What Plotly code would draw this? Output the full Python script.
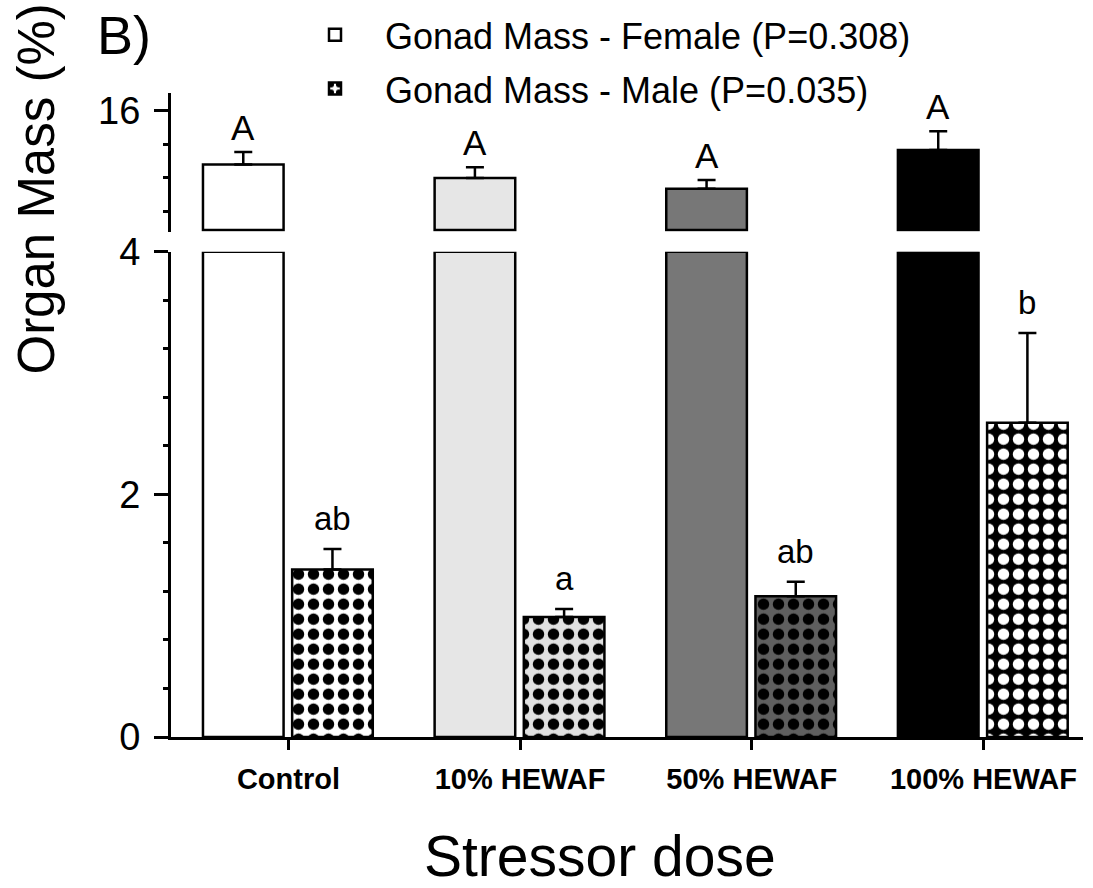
import plotly.graph_objects as go

# ---------------- data ----------------
categories = ["Control", "10% HEWAF", "50% HEWAF", "100% HEWAF"]
female_mean = [14.39, 13.99, 13.67, 14.82]
female_err = [0.37, 0.32, 0.26, 0.56]
male_mean = [1.38, 0.99, 1.16, 2.59]
male_err = [0.17, 0.065, 0.12, 0.74]
female_letters = ["A", "A", "A", "A"]
male_letters = ["ab", "a", "ab", "b"]
female_legend = "Gonad Mass - Female (P=0.308)"
male_legend = "Gonad Mass - Male (P=0.035)"
lower_ticks = [0, 2, 4]
upper_ticks = [16]

# ---------------- axis break ----------------
BREAK_LOW = 4.0      # top of lower segment
BREAK_HIGH = 12.44   # bottom of upper segment
UPPER_TOP = 16.52

# ---------------- styles ----------------
FONT = "Liberation Sans, Arial, sans-serif"
female_fill = ["#ffffff", "#e6e6e6", "#777777", "#000000"]
male_bg = ["#ffffff", "#e0e0e0", "#5f5f5f", "#000000"]
male_dot = ["#000000", "#000000", "#000000", "#ffffff"]
BAR_W = 0.348
F_OFF = -0.369
M_OFF = 0.016
x = list(range(len(categories)))

fig = go.Figure()

# female, lower segment (truncated at the break)
fig.add_trace(go.Bar(
    x=x, y=[min(v, BREAK_LOW) for v in female_mean],
    offset=F_OFF, width=BAR_W, name=female_legend, legendgroup="female",
    marker=dict(color=female_fill, line=dict(color="black", width=2.5)),
    xaxis="x", yaxis="y", showlegend=True, legendrank=1,
))
# female, upper segment
fig.add_trace(go.Bar(
    x=x, y=[v - BREAK_HIGH for v in female_mean], base=BREAK_HIGH,
    offset=F_OFF, width=BAR_W, name=female_legend, legendgroup="female",
    marker=dict(color=female_fill, line=dict(color="black", width=2.5)),
    error_y=dict(type="data", array=female_err, arrayminus=[0] * len(female_err),
                 symmetric=False, color="black", thickness=2.5, width=9),
    xaxis="x", yaxis="y2", showlegend=False,
))
# male (scalar marker colour so the per-point pattern colours are honoured)
fig.add_trace(go.Bar(
    x=x, y=male_mean,
    offset=M_OFF, width=BAR_W, name=male_legend, legendgroup="male",
    marker=dict(color="#ffffff", line=dict(color="black", width=2.5),
                pattern=dict(shape=".", fillmode="replace", bgcolor=male_bg,
                             fgcolor=male_dot, fgopacity=1, size=15, solidity=0.46)),
    error_y=dict(type="data", array=male_err, arrayminus=[0] * len(male_err),
                 symmetric=False, color="black", thickness=2.5, width=9),
    xaxis="x", yaxis="y", showlegend=True, legendrank=2,
))

annotations = []
for i, (m, e, t) in enumerate(zip(female_mean, female_err, female_letters)):
    annotations.append(dict(x=i + F_OFF + BAR_W / 2, y=m + e, xref="x", yref="y2",
                            text=t, showarrow=False, yanchor="bottom", yshift=3,
                            font=dict(size=35, family=FONT, color="black")))
for i, (m, e, t) in enumerate(zip(male_mean, male_err, male_letters)):
    annotations.append(dict(x=i + M_OFF + BAR_W / 2, y=m + e, xref="x", yref="y",
                            text=t, showarrow=False, yanchor="bottom", yshift=10,
                            font=dict(size=33, family=FONT, color="black")))
annotations.append(dict(x=-0.083, y=1.09, xref="paper", yref="paper", text="B)",
                        showarrow=False, xanchor="left", yanchor="middle",
                        font=dict(size=54, family=FONT, color="black")))
annotations.append(dict(x=-0.148, y=0.559, xref="paper", yref="paper",
                        text="Organ Mass (%)", textangle=-90, showarrow=False,
                        xanchor="center", yanchor="bottom",
                        font=dict(size=51, family=FONT, color="black")))
annotations.append(dict(x=0.470, y=-0.2376, xref="paper", yref="paper",
                        text="Stressor dose", showarrow=False,
                        xanchor="center", yanchor="bottom",
                        font=dict(size=57, family=FONT, color="black")))

yaxis_common = dict(
    showline=True, linewidth=3, linecolor="black", ticks="outside", ticklen=14,
    tickwidth=2.5, tickcolor="black", showgrid=False, zeroline=False,
    tickfont=dict(size=38, family=FONT, color="black"), ticklabelstandoff=6,
)

fig.update_layout(
    width=1093, height=888,
    margin=dict(l=171, r=10, t=93, b=151, autoexpand=False),
    paper_bgcolor="white", plot_bgcolor="white",
    barmode="overlay",
    font=dict(family=FONT, color="black"),
    xaxis=dict(range=[-0.507, 3.43], tickmode="array", tickvals=x, ticktext=categories,
               showline=True, linewidth=3, linecolor="black", ticks="outside",
               ticklen=10, tickwidth=2.5, tickcolor="black", showgrid=False,
               zeroline=False, anchor="y", ticklabelstandoff=4, automargin=False,
               tickfont=dict(size=29, family=FONT, color="black", weight="bold")),
    yaxis=dict(domain=[0, 0.7536], range=[0, BREAK_LOW], tickmode="array",
               tickvals=lower_ticks, anchor="x", automargin=False,
               minor=dict(tickmode="linear", tick0=0, dtick=0.4, ticks="outside",
                          ticklen=5, tickwidth=2.5, tickcolor="black"),
               **yaxis_common),
    yaxis2=dict(domain=[0.7846, 1], range=[BREAK_HIGH - 0.05, UPPER_TOP], tickmode="array",
                tickvals=upper_ticks, anchor="x", automargin=False,
                minor=dict(tickmode="linear", tick0=0, dtick=1, ticks="outside",
                           ticklen=5, tickwidth=2.5, tickcolor="black"),
                **yaxis_common),
    legend=dict(x=0.125, y=1.137, xanchor="left", yanchor="top",
                font=dict(size=36, family=FONT, color="black"),
                bgcolor="rgba(0,0,0,0)", itemwidth=90, traceorder="grouped",
                tracegroupgap=4),
    annotations=annotations,
)

fig.write_html("out.html")
